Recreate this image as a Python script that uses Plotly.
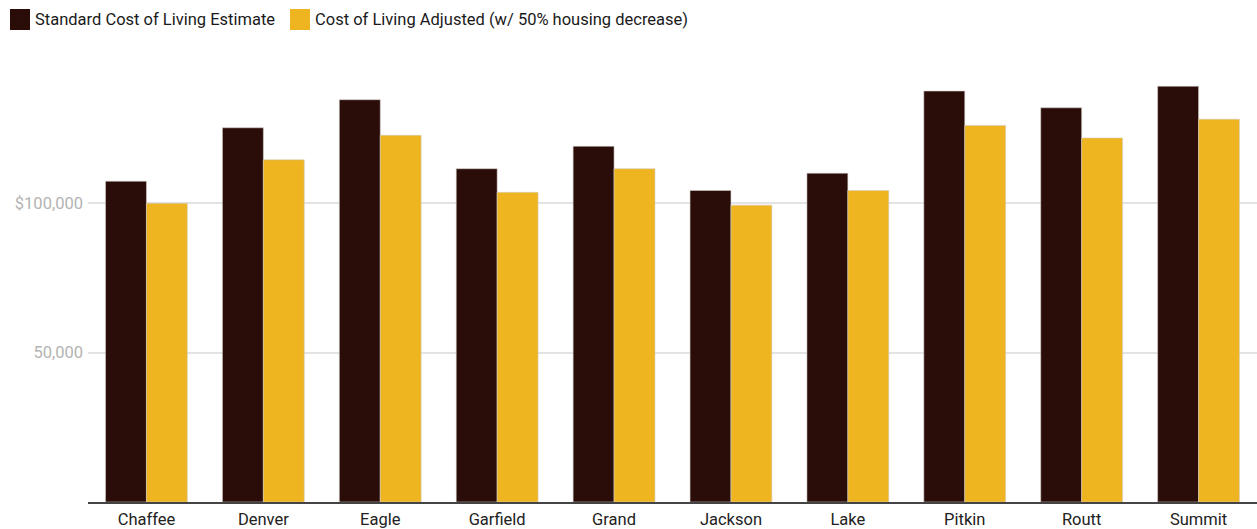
import plotly.graph_objects as go

counties = ["Chaffee", "Denver", "Eagle", "Garfield", "Grand",
            "Jackson", "Lake", "Pitkin", "Routt", "Summit"]
standard_cost = [107400, 125300, 134700, 111600, 119100,
                 104300, 110100, 137600, 132000, 139200]
adjusted_cost = [100000, 114600, 122800, 103700, 111600,
                 99400, 104300, 126100, 121900, 128200]
series_names = ["Standard Cost of Living Estimate",
                "Cost of Living Adjusted (w/ 50% housing decrease)"]
y_tick_values = [50000, 100000]
y_tick_labels = ["50,000", "$100,000"]

DARK = "#2a0d09"
GOLD = "#eeb521"
FONT = "Roboto, 'Noto Sans', sans-serif"
FONT_SIZE = 16.5

W, H = 1257, 529
M_L, M_R, M_T, M_B = 88, 0, 60, 27
PLOT_W = W - M_L - M_R
PLOT_H = H - M_T - M_B


def px_to_paper(x_px, y_px):
    """Convert page pixel position to paper coordinates."""
    return (x_px - M_L) / PLOT_W, (H - M_B - y_px) / PLOT_H


fig = go.Figure()
for name, values, color in [(series_names[0], standard_cost, DARK),
                            (series_names[1], adjusted_cost, GOLD)]:
    fig.add_trace(go.Bar(
        x=counties, y=values, name=name,
        marker=dict(color=color, line=dict(color="rgba(210,205,200,0.7)", width=0.8)),
        showlegend=False,
    ))

# Legend drawn as large colour squares with labels along the top
legend_items = [(series_names[0], DARK, 10), (series_names[1], GOLD, 290)]
shapes = []
annotations = []
for name, color, x0 in legend_items:
    px0, py0 = px_to_paper(x0, 30)
    px1, py1 = px_to_paper(x0 + 20, 9)
    shapes.append(dict(type="rect", xref="paper", yref="paper",
                       x0=px0, x1=px1, y0=py0, y1=py1,
                       fillcolor=color, line=dict(width=0)))
    tx, ty = px_to_paper(x0 + 23, 19.5)
    annotations.append(dict(text=name, xref="paper", yref="paper",
                            x=tx, y=ty, xanchor="left", yanchor="middle",
                            showarrow=False,
                            font=dict(family=FONT, size=FONT_SIZE, color="#1a1a1a")))

fig.update_layout(
    width=W, height=H,
    margin=dict(l=M_L, r=M_R, t=M_T, b=M_B),
    paper_bgcolor="white", plot_bgcolor="white",
    barmode="group", bargap=0.3, bargroupgap=0,
    font=dict(family=FONT, size=FONT_SIZE, color="#333333"),
    shapes=shapes, annotations=annotations,
    xaxis=dict(showline=True, linecolor="#444444", linewidth=1.5,
               ticks="", tickfont=dict(size=FONT_SIZE, color="#222222"),
               ticklabelstandoff=1, showgrid=False),
    yaxis=dict(range=[0, 148000], tickvals=y_tick_values, ticktext=y_tick_labels,
               showgrid=True, gridcolor="#e3e3e3", gridwidth=1.5,
               zeroline=False, showline=False, ticks="",
               ticklabelstandoff=4,
               tickfont=dict(size=FONT_SIZE, color="#b3b3b3")),
)

fig.write_html("out.html")
